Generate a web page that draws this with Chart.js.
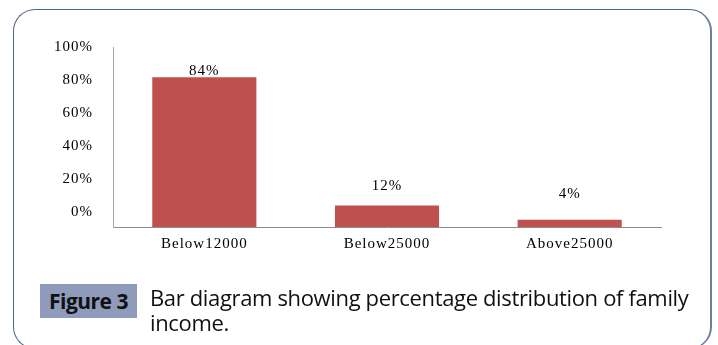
<!DOCTYPE html>
<html>
<head>
<meta charset="utf-8">
<script src="https://cdn.jsdelivr.net/npm/chart.js@4.4.1/dist/chart.umd.min.js"></script>
<style>
  html, body { margin: 0; padding: 0; background: #fff; }
  #wrap { position: relative; width: 718px; height: 345px; overflow: hidden; }
  #frame {
    position: absolute; left: 13px; top: 9px; width: 699px; height: 340px;
    border: 1.5px solid #4f6689; border-right: 2px solid #6e7f9d; border-radius: 22px; box-sizing: border-box;
  }
  #chart-box { position: absolute; left: 0; top: 0; width: 718px; height: 345px; }
  #fig-tag {
    position: absolute; left: 40px; top: 284px; width: 97px; height: 34px;
    background: #8e9bbb; color: #111; font-family: "Open Sans", sans-serif;
    font-weight: bold; font-size: 21px; letter-spacing: -0.5px; line-height: 34px; text-align: center;
  }
  #caption {
    position: absolute; left: 150px; top: 285px; width: 560px;
    font-family: "Open Sans", sans-serif; font-size: 22px; letter-spacing: -0.35px;
    line-height: 25px; color: #111;
  }
</style>
</head>
<body>
<div id="wrap">
  <div id="frame"></div>
  <div id="chart-box"><canvas id="income-chart" width="718" height="345"></canvas></div>
  <div id="fig-tag">Figure 3</div>
  <div id="caption">Bar diagram showing percentage distribution of family<br>income.</div>
</div>
<script>
const categories = ['Below12000', 'Below25000', 'Above25000'];
const percentValues = [84, 12, 4];
const yTickValues = [0, 20, 40, 60, 80, 100];

const serif = { family: '"Liberation Serif", "Times New Roman", serif', size: 15 };

// value labels sit above each bar (excel placed them a bit unevenly)
const labelGap = [6, 20, 26];

const barLabels = {
  id: 'barLabels',
  beforeDraw(chart) {
    chart.ctx.letterSpacing = '1px';
  },
  afterDatasetsDraw(chart) {
    const ctx = chart.ctx;
    const meta = chart.getDatasetMeta(0);
    ctx.save();
    ctx.letterSpacing = '1px';
    ctx.font = serif.size + 'px ' + serif.family;
    ctx.fillStyle = '#000';
    ctx.textAlign = 'center';
    ctx.textBaseline = 'middle';
    meta.data.forEach((bar, i) => {
      ctx.fillText(percentValues[i] + '%', bar.x, bar.y - labelGap[i]);
    });
    ctx.restore();
  }
};

new Chart(document.getElementById('income-chart'), {
  type: 'bar',
  data: {
    labels: categories,
    datasets: [{
      data: percentValues,
      backgroundColor: '#c0504d',
      borderWidth: 0,
      categoryPercentage: 1,
      barPercentage: 0.57
    }]
  },
  options: {
    responsive: false,
    animation: false,
    devicePixelRatio: 1,
    layout: { padding: { left: 0, right: 57, top: 47, bottom: 88 } },
    plugins: { legend: { display: false }, tooltip: { enabled: false } },
    scales: {
      x: {
        grid: { display: false, drawTicks: false },
        border: { color: '#8c8c8c', width: 1 },
        ticks: { color: '#000', font: serif, padding: 8, maxRotation: 0 },
        afterFit(scale) { scale.height = 30; }
      },
      y: {
        position: 'left',
        min: 0,
        max: 100.9,
        grid: { display: false, drawTicks: false },
        border: { color: '#a6a6a6', width: 1 },
        ticks: { display: false },
        afterFit(scale) { scale.width = 0; }
      },
      // the tick labels in the original don't line up with the bar scale
      yLabels: {
        position: 'left',
        min: -9.09,
        max: 100,
        grid: { display: false, drawTicks: false },
        border: { display: false },
        ticks: {
          color: '#000', font: serif, padding: 20,
          callback: v => v + '%'
        },
        afterBuildTicks(scale) {
          scale.ticks = yTickValues.map(v => ({ value: v }));
        },
        afterFit(scale) { scale.width = 113; }
      }
    }
  },
  plugins: [barLabels]
});
</script>
</body>
</html>
